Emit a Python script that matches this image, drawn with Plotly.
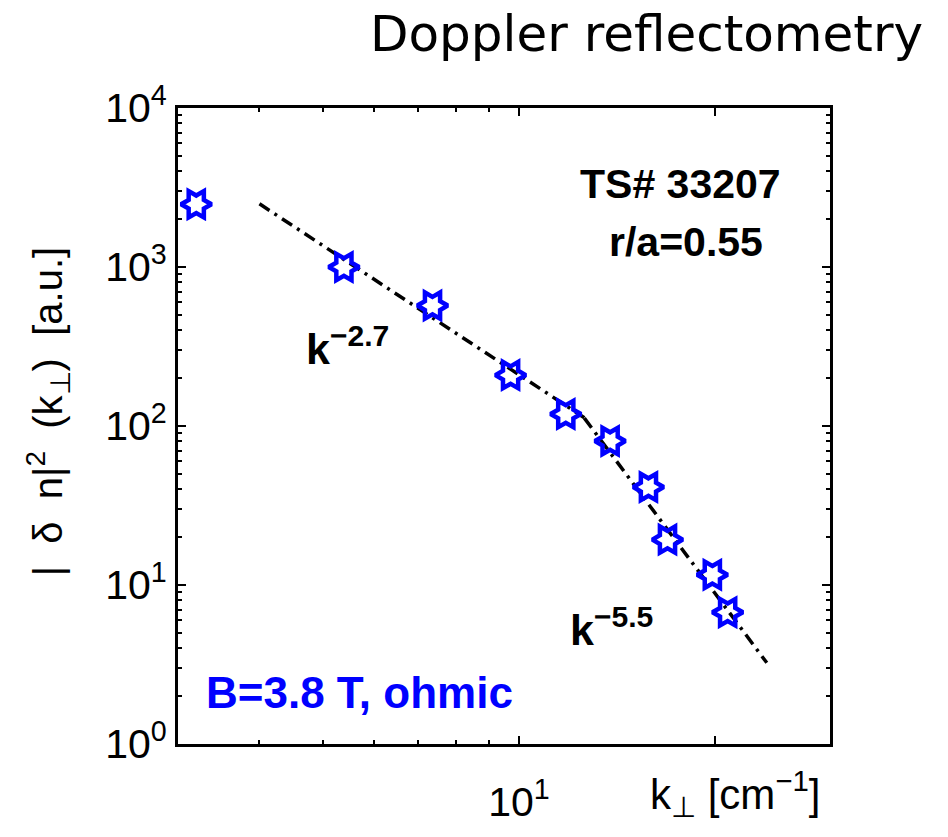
import numpy as np
import plotly.graph_objects as go

# Measured spectrum: perpendicular wavenumber [cm^-1] and |dn|^2 [a.u.]
k_perp = [3.20, 5.39, 7.37, 9.71, 11.8, 13.8, 15.8, 16.9, 19.8, 20.9]
spectrum = [2480, 1000, 572, 209, 119, 80.4, 41.3, 19.3, 11.6, 6.74]

# Power-law fits: exponent, amplitude, k-range
fit_low_exp, fit_low_amp, fit_low_k = -2.7, 1.054e5, [4.0, 12.6]
fit_high_exp, fit_high_amp, fit_high_k = -5.5, 1.264e8, [12.6, 24.0]

y_tickvals = [1, 10, 100, 1000, 10000]
y_ticktext = ["10<sup>0</sup>", "10<sup>1</sup>", "10<sup>2</sup>", "10<sup>3</sup>", "10<sup>4</sup>"]
y_minor = [m * 10 ** d for d in range(4) for m in range(2, 10)]
x_tickvals = [10, 20]
x_ticktext = ["10<sup>1</sup>", ""]
x_minor = [4, 5, 6, 7, 8, 9]

BLUE = "#0000ff"
FONT = "Liberation Sans"

def power_law(k, amp, exp):
    k = np.asarray(k, dtype=float)
    return amp * k ** exp

fig = go.Figure()

for ks, amp, ex in [(fit_low_k, fit_low_amp, fit_low_exp),
                    (fit_high_k, fit_high_amp, fit_high_exp)]:
    fig.add_trace(go.Scatter(
        x=ks, y=power_law(ks, amp, ex), mode="lines",
        line=dict(color="black", width=3.5, dash="12px,6px,3px,6px"),
        showlegend=False, hoverinfo="skip"))

fig.add_trace(go.Scatter(
    x=k_perp, y=spectrum, mode="markers",
    marker=dict(symbol="hexagram-open", size=23, angle=90,
                color=BLUE, line=dict(color=BLUE, width=4.5)),
    showlegend=False))

axis_common = dict(
    type="log", showline=True, linecolor="black", linewidth=3,
    mirror="ticks", ticks="inside", ticklen=8, tickwidth=2, tickcolor="black",
    showgrid=False, zeroline=False,
    tickfont=dict(family=FONT, size=41, color="black"),
)

fig.update_xaxes(
    **axis_common,
    range=[np.log10(3), np.log10(30)],
    tickmode="array", tickvals=x_tickvals, ticktext=x_ticktext,
    ticklabelstandoff=20,
    minor=dict(tickmode="array", tickvals=x_minor, ticks="inside",
               ticklen=4, tickwidth=2, tickcolor="black", showgrid=False),
)
fig.update_yaxes(
    **axis_common,
    range=[0, 4],
    tickmode="array", tickvals=y_tickvals, ticktext=y_ticktext,
    minor=dict(tickmode="array", tickvals=y_minor, ticks="inside",
               ticklen=4, tickwidth=2, tickcolor="black", showgrid=False),
)

W, H = 948, 837
L, R, T, B = 178, 118, 108, 81
pw, ph = W - L - R, H - T - B

def px(x):
    return (x - L) / pw

def py(y):
    return (H - B - y) / ph

annotations = [
    dict(text="Doppler reflectometry", x=px(925), y=py(33), xanchor="right",
         yanchor="middle", font=dict(family="DejaVu Sans", size=50, color="black")),
    dict(text="<b>TS# 33207</b>", x=px(680), y=py(185), xanchor="center",
         yanchor="middle", font=dict(family=FONT, size=41, color="black")),
    dict(text="<b>r/a=0.55</b>", x=px(686), y=py(245), xanchor="center",
         yanchor="middle", font=dict(family=FONT, size=41, color="black")),
    dict(text="<b>k<sup>−2.7</sup></b>", x=px(304), y=py(350), xanchor="left",
         yanchor="middle", font=dict(family=FONT, size=43, color="black")),
    dict(text="<b>k<sup>−5.5</sup></b>", x=px(568), y=py(637), xanchor="left",
         yanchor="middle", font=dict(family=FONT, size=43, color="black")),
    dict(text="<b>B=3.8 T, ohmic</b>", x=px(204), y=py(704), xanchor="left",
         yanchor="middle", font=dict(family=FONT, size=44, color=BLUE)),
    dict(text="k<sub>⊥</sub> [cm<sup>−1</sup>]", x=px(648), y=py(806), xanchor="left",
         yanchor="middle", font=dict(family=FONT, size=42, color="black")),
    dict(text="|  δ  n|<sup>2</sup>  (k<sub>⊥</sub>)  [a.u.]", x=px(48), y=py(418),
         xanchor="center", yanchor="middle", textangle=-90,
         font=dict(family=FONT, size=40, color="black")),
]
for a in annotations:
    a.update(xref="paper", yref="paper", showarrow=False)

fig.update_layout(
    width=W, height=H,
    margin=dict(l=L, r=R, t=T, b=B),
    paper_bgcolor="white", plot_bgcolor="white",
    annotations=annotations,
)

fig.write_html("out.html")
